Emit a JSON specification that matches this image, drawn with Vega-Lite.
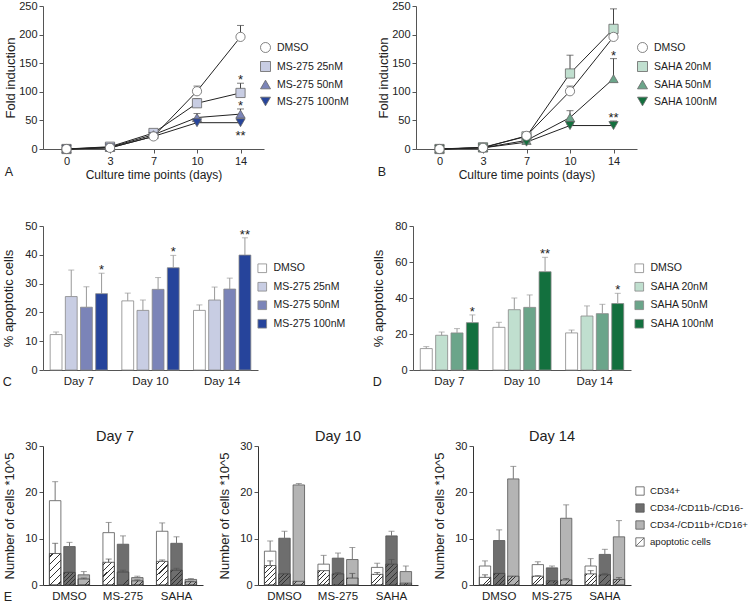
{
 "$schema": "https://vega.github.io/schema/vega-lite/v6.json",
 "padding": {"left": 2, "top": 0, "right": 0, "bottom": 0},
 "config": {
  "font": "Liberation Sans",
  "view": {"stroke": null},
  "axis": {"labelFont": "Liberation Sans", "labelFontSize": 11, "labelColor": "#222", "titleFont": "Liberation Sans", "titleFontSize": 12, "titleFontWeight": "normal", "titleColor": "#222", "domainColor": "#555", "tickColor": "#555", "grid": false, "labelPadding": 2, "tickSize": 4},
  "axisY": {"titleFontSize": 13},
  "legend": {"labelFont": "Liberation Sans", "labelFontSize": 10.5, "labelColor": "#222", "labelLimit": 250},
  "title": {"font": "Liberation Sans", "fontWeight": "normal", "color": "#222"},
  "text": {"font": "Liberation Sans"}
 },
 "datasets": {
  "A": [
   {"day":0,"treatment":"MS-275 25nM","value":0,"err":0,"sig":""},
   {"day":3,"treatment":"MS-275 25nM","value":4,"err":5,"sig":""},
   {"day":7,"treatment":"MS-275 25nM","value":28,"err":31,"sig":""},
   {"day":10,"treatment":"MS-275 25nM","value":80,"err":88,"sig":""},
   {"day":14,"treatment":"MS-275 25nM","value":98,"err":115,"sig":"*"},
   {"day":0,"treatment":"MS-275 50nM","value":0,"err":0,"sig":""},
   {"day":3,"treatment":"MS-275 50nM","value":3,"err":3,"sig":""},
   {"day":7,"treatment":"MS-275 50nM","value":25,"err":27,"sig":""},
   {"day":10,"treatment":"MS-275 50nM","value":55,"err":62,"sig":""},
   {"day":14,"treatment":"MS-275 50nM","value":61,"err":70,"sig":"*"},
   {"day":0,"treatment":"MS-275 100nM","value":0,"err":0,"sig":""},
   {"day":3,"treatment":"MS-275 100nM","value":2,"err":2,"sig":""},
   {"day":7,"treatment":"MS-275 100nM","value":22,"err":23,"sig":""},
   {"day":10,"treatment":"MS-275 100nM","value":46,"err":48,"sig":""},
   {"day":14,"treatment":"MS-275 100nM","value":46,"err":50,"sig":"**"},
   {"day":0,"treatment":"DMSO","value":0,"err":0,"sig":""},
   {"day":3,"treatment":"DMSO","value":2,"err":3,"sig":""},
   {"day":7,"treatment":"DMSO","value":22,"err":25,"sig":""},
   {"day":10,"treatment":"DMSO","value":101,"err":110,"sig":""},
   {"day":14,"treatment":"DMSO","value":196,"err":216,"sig":""}
  ],
  "B": [
   {"day":0,"treatment":"SAHA 20nM","value":0,"err":0,"sig":""},
   {"day":3,"treatment":"SAHA 20nM","value":3,"err":4,"sig":""},
   {"day":7,"treatment":"SAHA 20nM","value":22,"err":24,"sig":""},
   {"day":10,"treatment":"SAHA 20nM","value":132,"err":164,"sig":""},
   {"day":14,"treatment":"SAHA 20nM","value":210,"err":245,"sig":""},
   {"day":0,"treatment":"SAHA 50nM","value":0,"err":0,"sig":""},
   {"day":3,"treatment":"SAHA 50nM","value":2,"err":2,"sig":""},
   {"day":7,"treatment":"SAHA 50nM","value":15,"err":17,"sig":""},
   {"day":10,"treatment":"SAHA 50nM","value":55,"err":67,"sig":""},
   {"day":14,"treatment":"SAHA 50nM","value":123,"err":158,"sig":"*"},
   {"day":0,"treatment":"SAHA 100nM","value":0,"err":0,"sig":""},
   {"day":3,"treatment":"SAHA 100nM","value":2,"err":2,"sig":""},
   {"day":7,"treatment":"SAHA 100nM","value":12,"err":13,"sig":""},
   {"day":10,"treatment":"SAHA 100nM","value":41,"err":43,"sig":""},
   {"day":14,"treatment":"SAHA 100nM","value":41,"err":49,"sig":"**"},
   {"day":0,"treatment":"DMSO","value":0,"err":0,"sig":""},
   {"day":3,"treatment":"DMSO","value":2,"err":3,"sig":""},
   {"day":7,"treatment":"DMSO","value":23,"err":25,"sig":""},
   {"day":10,"treatment":"DMSO","value":101,"err":110,"sig":""},
   {"day":14,"treatment":"DMSO","value":196,"err":216,"sig":""}
  ],
  "C": [
   {"day":"Day 7","treatment":"DMSO","value":12.3,"err":13.2,"sig":""},
   {"day":"Day 7","treatment":"MS-275 25nM","value":25.5,"err":34.7,"sig":""},
   {"day":"Day 7","treatment":"MS-275 50nM","value":21.8,"err":28.9,"sig":""},
   {"day":"Day 7","treatment":"MS-275 100nM","value":26.5,"err":33.6,"sig":"*"},
   {"day":"Day 10","treatment":"DMSO","value":24.0,"err":26.7,"sig":""},
   {"day":"Day 10","treatment":"MS-275 25nM","value":20.7,"err":24.3,"sig":""},
   {"day":"Day 10","treatment":"MS-275 50nM","value":28.0,"err":32.1,"sig":""},
   {"day":"Day 10","treatment":"MS-275 100nM","value":35.5,"err":39.8,"sig":"*"},
   {"day":"Day 14","treatment":"DMSO","value":20.7,"err":22.6,"sig":""},
   {"day":"Day 14","treatment":"MS-275 25nM","value":24.3,"err":28.8,"sig":""},
   {"day":"Day 14","treatment":"MS-275 50nM","value":28.1,"err":31.9,"sig":""},
   {"day":"Day 14","treatment":"MS-275 100nM","value":39.9,"err":45.9,"sig":"**"}
  ],
  "D": [
   {"day":"Day 7","treatment":"DMSO","value":11.9,"err":13.0,"sig":""},
   {"day":"Day 7","treatment":"SAHA 20nM","value":19.3,"err":21.1,"sig":""},
   {"day":"Day 7","treatment":"SAHA 50nM","value":20.6,"err":23.0,"sig":""},
   {"day":"Day 7","treatment":"SAHA 100nM","value":26.3,"err":30.6,"sig":"*"},
   {"day":"Day 10","treatment":"DMSO","value":23.7,"err":26.5,"sig":""},
   {"day":"Day 10","treatment":"SAHA 20nM","value":33.5,"err":40.0,"sig":""},
   {"day":"Day 10","treatment":"SAHA 50nM","value":34.8,"err":41.7,"sig":""},
   {"day":"Day 10","treatment":"SAHA 100nM","value":54.6,"err":62.6,"sig":"**"},
   {"day":"Day 14","treatment":"DMSO","value":20.6,"err":22.2,"sig":""},
   {"day":"Day 14","treatment":"SAHA 20nM","value":30.0,"err":35.6,"sig":""},
   {"day":"Day 14","treatment":"SAHA 50nM","value":31.3,"err":36.5,"sig":""},
   {"day":"Day 14","treatment":"SAHA 100nM","value":36.9,"err":42.6,"sig":"*"}
  ],
  "E7": [
   {"group":"DMSO","pop":"CD34+","value":18.2,"err":22.3,"apo":6.8,"apoErr":9.0},
   {"group":"DMSO","pop":"CD34-/CD11b-/CD16-","value":8.3,"err":9.2,"apo":2.7,"apoErr":2.8},
   {"group":"DMSO","pop":"CD34-/CD11b+/CD16+","value":2.2,"err":2.9,"apo":1.3,"apoErr":1.5},
   {"group":"MS-275","pop":"CD34+","value":11.3,"err":13.5,"apo":4.9,"apoErr":5.6},
   {"group":"MS-275","pop":"CD34-/CD11b-/CD16-","value":8.8,"err":10.6,"apo":2.8,"apoErr":3.2},
   {"group":"MS-275","pop":"CD34-/CD11b+/CD16+","value":1.6,"err":1.9,"apo":0.9,"apoErr":1.1},
   {"group":"SAHA","pop":"CD34+","value":11.6,"err":13.4,"apo":5.1,"apoErr":5.4},
   {"group":"SAHA","pop":"CD34-/CD11b-/CD16-","value":9.0,"err":10.4,"apo":3.2,"apoErr":3.6},
   {"group":"SAHA","pop":"CD34-/CD11b+/CD16+","value":1.2,"err":1.4,"apo":0.7,"apoErr":0.8}
  ],
  "E10": [
   {"group":"DMSO","pop":"CD34+","value":7.3,"err":9.5,"apo":4.2,"apoErr":5.2},
   {"group":"DMSO","pop":"CD34-/CD11b-/CD16-","value":10.1,"err":11.6,"apo":2.4,"apoErr":2.5},
   {"group":"DMSO","pop":"CD34-/CD11b+/CD16+","value":21.6,"err":21.9,"apo":0.8,"apoErr":0.8},
   {"group":"MS-275","pop":"CD34+","value":4.5,"err":6.4,"apo":3.1,"apoErr":3.1},
   {"group":"MS-275","pop":"CD34-/CD11b-/CD16-","value":5.8,"err":6.9,"apo":2.4,"apoErr":2.7},
   {"group":"MS-275","pop":"CD34-/CD11b+/CD16+","value":5.5,"err":8.1,"apo":1.5,"apoErr":2.5},
   {"group":"SAHA","pop":"CD34+","value":3.8,"err":4.7,"apo":2.3,"apoErr":2.7},
   {"group":"SAHA","pop":"CD34-/CD11b-/CD16-","value":10.6,"err":11.6,"apo":4.5,"apoErr":5.5},
   {"group":"SAHA","pop":"CD34-/CD11b+/CD16+","value":2.9,"err":4.1,"apo":0.4,"apoErr":0.4}
  ],
  "E14": [
   {"group":"DMSO","pop":"CD34+","value":4.1,"err":5.2,"apo":1.65,"apoErr":2.2},
   {"group":"DMSO","pop":"CD34-/CD11b-/CD16-","value":9.6,"err":11.9,"apo":2.5,"apoErr":2.5},
   {"group":"DMSO","pop":"CD34-/CD11b+/CD16+","value":22.9,"err":25.6,"apo":1.9,"apoErr":1.9},
   {"group":"MS-275","pop":"CD34+","value":4.4,"err":5.0,"apo":1.9,"apoErr":2.0},
   {"group":"MS-275","pop":"CD34-/CD11b-/CD16-","value":3.7,"err":4.1,"apo":0.9,"apoErr":0.9},
   {"group":"MS-275","pop":"CD34-/CD11b+/CD16+","value":14.4,"err":17.3,"apo":1.1,"apoErr":1.4},
   {"group":"SAHA","pop":"CD34+","value":4.1,"err":5.7,"apo":2.4,"apoErr":3.1},
   {"group":"SAHA","pop":"CD34-/CD11b-/CD16-","value":6.6,"err":7.7,"apo":2.2,"apoErr":2.5},
   {"group":"SAHA","pop":"CD34-/CD11b+/CD16+","value":10.4,"err":13.9,"apo":1.2,"apoErr":1.6}
  ]
 },
 "resolve": {"scale": {"x": "independent", "y": "independent", "color": "independent", "shape": "independent", "xOffset": "independent"}, "legend": {"color": "independent", "shape": "independent"}},
 "spacing": 40,
 "vconcat": [
  {
   "hconcat": [
    {
     "width": 221, "height": 143,
     "title": {"text": "A", "orient": "bottom", "anchor": "start", "fontSize": 12.5, "offset": -14},
     "data": {"name": "A"},
     "encoding": {
      "x": {"field": "day", "type": "ordinal", "scale": {"type": "point", "padding": 0.54}, "axis": {"title": "Culture time points (days)", "labelAngle": 0, "titlePadding": 3}},
      "y": {"field": "value", "type": "quantitative", "scale": {"domain": [0, 250], "nice": false}, "axis": {"values": [0, 50, 100, 150, 200, 250], "titlePadding": 1}, "title": "Fold induction"}
     },
     "layer": [
      {"transform": [{"filter": "datum.err > datum.value"}], "mark": {"type": "rule", "color": "#444", "strokeWidth": 1}, "encoding": {"y2": {"field": "err"}}},
      {"transform": [{"filter": "datum.err > datum.value"}], "mark": {"type": "tick", "color": "#444", "size": 7, "thickness": 1}, "encoding": {"y": {"field": "err", "type": "quantitative", "title": "Fold induction"}}},
      {"mark": {"type": "line", "color": "#222", "strokeWidth": 1}, "encoding": {"detail": {"field": "treatment"}}},
      {"mark": {"type": "point", "filled": true, "size": 85, "stroke": "#666", "strokeWidth": 0.8, "opacity": 1},
       "encoding": {
        "shape": {"field": "treatment", "type": "nominal", "scale": {"domain": ["DMSO", "MS-275 25nM", "MS-275 50nM", "MS-275 100nM"], "range": ["circle", "square", "triangle-up", "triangle-down"]}, "legend": {"title": null, "orient": "none", "legendX": 217, "legendY": 36, "symbolSize": 100, "rowPadding": 4, "labelOffset": 6, "symbolStrokeColor": "#666", "symbolStrokeWidth": 0.8}},
        "color": {"field": "treatment", "type": "nominal", "scale": {"domain": ["DMSO", "MS-275 25nM", "MS-275 50nM", "MS-275 100nM"], "range": ["#ffffff", "#c8cde3", "#7b84b8", "#26449b"]}, "legend": {"title": null, "orient": "none", "legendX": 217, "legendY": 36, "symbolSize": 100, "rowPadding": 4, "labelOffset": 6, "symbolStrokeColor": "#666", "symbolStrokeWidth": 0.8}}
       }},
      {"transform": [{"filter": "datum.sig != '' && datum.treatment != 'MS-275 100nM'"}], "mark": {"type": "text", "fontSize": 13, "baseline": "alphabetic", "dy": 1, "color": "#222"}, "encoding": {"y": {"field": "err", "type": "quantitative", "title": "Fold induction"}, "text": {"field": "sig"}}},
      {"transform": [{"filter": "datum.sig != '' && datum.treatment == 'MS-275 100nM'"}], "mark": {"type": "text", "fontSize": 13, "baseline": "alphabetic", "dy": 17, "color": "#222"}, "encoding": {"text": {"field": "sig"}}}
     ]
    },
    {
     "width": 221, "height": 143,
     "title": {"text": "B", "orient": "bottom", "anchor": "start", "fontSize": 12.5, "offset": -14},
     "data": {"name": "B"},
     "encoding": {
      "x": {"field": "day", "type": "ordinal", "scale": {"type": "point", "padding": 0.54}, "axis": {"title": "Culture time points (days)", "labelAngle": 0, "titlePadding": 3}},
      "y": {"field": "value", "type": "quantitative", "scale": {"domain": [0, 250], "nice": false}, "axis": {"values": [0, 50, 100, 150, 200, 250], "titlePadding": 1}, "title": "Fold induction"}
     },
     "layer": [
      {"transform": [{"filter": "datum.err > datum.value"}], "mark": {"type": "rule", "color": "#444", "strokeWidth": 1}, "encoding": {"y2": {"field": "err"}}},
      {"transform": [{"filter": "datum.err > datum.value"}], "mark": {"type": "tick", "color": "#444", "size": 7, "thickness": 1}, "encoding": {"y": {"field": "err", "type": "quantitative", "title": "Fold induction"}}},
      {"mark": {"type": "line", "color": "#222", "strokeWidth": 1}, "encoding": {"detail": {"field": "treatment"}}},
      {"mark": {"type": "point", "filled": true, "size": 85, "stroke": "#666", "strokeWidth": 0.8, "opacity": 1},
       "encoding": {
        "shape": {"field": "treatment", "type": "nominal", "scale": {"domain": ["DMSO", "SAHA 20nM", "SAHA 50nM", "SAHA 100nM"], "range": ["circle", "square", "triangle-up", "triangle-down"]}, "legend": {"title": null, "orient": "none", "legendX": 221, "legendY": 36, "symbolSize": 100, "rowPadding": 4, "labelOffset": 6, "symbolStrokeColor": "#666", "symbolStrokeWidth": 0.8}},
        "color": {"field": "treatment", "type": "nominal", "scale": {"domain": ["DMSO", "SAHA 20nM", "SAHA 50nM", "SAHA 100nM"], "range": ["#ffffff", "#c0dfcf", "#6ba58a", "#13703e"]}, "legend": {"title": null, "orient": "none", "legendX": 221, "legendY": 36, "symbolSize": 100, "rowPadding": 4, "labelOffset": 6, "symbolStrokeColor": "#666", "symbolStrokeWidth": 0.8}}
       }},
      {"transform": [{"filter": "datum.sig != ''"}], "mark": {"type": "text", "fontSize": 13, "baseline": "alphabetic", "dy": 1, "color": "#222"}, "encoding": {"y": {"field": "err", "type": "quantitative", "title": "Fold induction"}, "text": {"field": "sig"}}}
     ]
    }
   ],
   "spacing": 152,
   "bounds": "flush",
   "resolve": {"scale": {"x": "independent", "y": "independent", "color": "independent", "shape": "independent"}, "legend": {"color": "independent", "shape": "independent"}}
  },
  {
   "hconcat": [
    {
     "width": 215, "height": 144,
     "title": {"text": "C", "orient": "bottom", "anchor": "start", "fontSize": 12.5, "offset": -11},
     "data": {"name": "C"},
     "encoding": {
      "x": {"field": "day", "type": "nominal", "sort": ["Day 7", "Day 10", "Day 14"], "scale": {"paddingInner": 0.2, "paddingOuter": 0.1}, "axis": {"title": null, "ticks": false, "labelAngle": 0, "labelPadding": 5, "labelFontSize": 11.5}},
      "xOffset": {"field": "treatment", "type": "nominal", "scale": {"domain": ["DMSO", "MS-275 25nM", "MS-275 50nM", "MS-275 100nM"], "paddingInner": 0.22}},
      "y": {"field": "value", "type": "quantitative", "scale": {"domain": [0, 50], "nice": false}, "axis": {"values": [0, 10, 20, 30, 40, 50], "titlePadding": 9}, "title": "% apoptotic cells"}
     },
     "layer": [
      {"mark": {"type": "bar", "stroke": "#888", "strokeWidth": 0.8}, "encoding": {"color": {"field": "treatment", "type": "nominal", "scale": {"domain": ["DMSO", "MS-275 25nM", "MS-275 50nM", "MS-275 100nM"], "range": ["#ffffff", "#c8cde3", "#7b84b8", "#26449b"]}, "legend": {"title": null, "orient": "none", "legendX": 214, "legendY": 37, "symbolType": "square", "symbolSize": 75, "rowPadding": 5.5, "labelOffset": 6, "symbolStrokeColor": "#888", "symbolStrokeWidth": 0.8}}}},
      {"mark": {"type": "rule", "color": "#999", "strokeWidth": 1}, "encoding": {"y2": {"field": "err"}}},
      {"mark": {"type": "tick", "color": "#999", "size": 6, "thickness": 1}, "encoding": {"y": {"field": "err", "type": "quantitative", "title": "% apoptotic cells"}}},
      {"transform": [{"filter": "datum.sig != ''"}], "mark": {"type": "text", "fontSize": 13, "baseline": "alphabetic", "dy": 1, "color": "#222"}, "encoding": {"y": {"field": "err", "type": "quantitative", "title": "% apoptotic cells"}, "text": {"field": "sig"}}}
     ]
    },
    {
     "width": 218, "height": 144,
     "title": {"text": "D", "orient": "bottom", "anchor": "start", "fontSize": 12.5, "offset": -11},
     "data": {"name": "D"},
     "encoding": {
      "x": {"field": "day", "type": "nominal", "sort": ["Day 7", "Day 10", "Day 14"], "scale": {"paddingInner": 0.2, "paddingOuter": 0.1}, "axis": {"title": null, "ticks": false, "labelAngle": 0, "labelPadding": 5, "labelFontSize": 11.5}},
      "xOffset": {"field": "treatment", "type": "nominal", "scale": {"domain": ["DMSO", "SAHA 20nM", "SAHA 50nM", "SAHA 100nM"], "paddingInner": 0.22}},
      "y": {"field": "value", "type": "quantitative", "scale": {"domain": [0, 80], "nice": false}, "axis": {"values": [0, 20, 40, 60, 80], "titlePadding": 9}, "title": "% apoptotic cells"}
     },
     "layer": [
      {"mark": {"type": "bar", "stroke": "#888", "strokeWidth": 0.8}, "encoding": {"color": {"field": "treatment", "type": "nominal", "scale": {"domain": ["DMSO", "SAHA 20nM", "SAHA 50nM", "SAHA 100nM"], "range": ["#ffffff", "#c0dfcf", "#6ba58a", "#13703e"]}, "legend": {"title": null, "orient": "none", "legendX": 221, "legendY": 37, "symbolType": "square", "symbolSize": 75, "rowPadding": 5.5, "labelOffset": 6, "symbolStrokeColor": "#888", "symbolStrokeWidth": 0.8}}}},
      {"mark": {"type": "rule", "color": "#999", "strokeWidth": 1}, "encoding": {"y2": {"field": "err"}}},
      {"mark": {"type": "tick", "color": "#999", "size": 6, "thickness": 1}, "encoding": {"y": {"field": "err", "type": "quantitative", "title": "% apoptotic cells"}}},
      {"transform": [{"filter": "datum.sig != ''"}], "mark": {"type": "text", "fontSize": 13, "baseline": "alphabetic", "dy": 1, "color": "#222"}, "encoding": {"y": {"field": "err", "type": "quantitative", "title": "% apoptotic cells"}, "text": {"field": "sig"}}}
     ]
    }
   ],
   "spacing": 155,
   "bounds": "flush",
   "resolve": {"scale": {"x": "independent", "y": "independent", "color": "independent", "xOffset": "independent"}, "legend": {"color": "independent"}}
  },
  {
   "title": {"text": "E", "orient": "bottom", "anchor": "start", "fontSize": 12.5, "offset": -11},
   "hconcat": [
    {
     "width": 160, "height": 139,
     "title": {"text": "Day 7", "fontSize": 14.5, "offset": -4, "frame": "group", "dx": -8},
     "data": {"name": "E7"},
     "encoding": {
      "x": {"field": "group", "type": "nominal", "sort": ["DMSO", "MS-275", "SAHA"], "scale": {"paddingInner": 0.25, "paddingOuter": 0.12}, "axis": {"title": null, "ticks": false, "labelAngle": 0, "labelPadding": 5, "labelFontSize": 11.5, "domainColor": "#333", "domainWidth": 1.2}},
      "xOffset": {"field": "pop", "type": "nominal", "scale": {"domain": ["CD34+", "CD34-/CD11b-/CD16-", "CD34-/CD11b+/CD16+"], "paddingInner": 0.2}},
      "y": {"field": "value", "type": "quantitative", "scale": {"domain": [0, 30], "nice": false}, "axis": {"values": [0, 10, 20, 30], "titlePadding": 8, "domainColor": "#333"}, "title": "Number of cells *10^5"}
     },
     "layer": [
      {"mark": {"type": "bar", "stroke": "#555", "strokeWidth": 0.8}, "encoding": {"color": {"field": "pop", "type": "nominal", "scale": {"domain": ["CD34+", "CD34-/CD11b-/CD16-", "CD34-/CD11b+/CD16+", "apoptotic cells"], "range": ["#ffffff", "#6e6e6e", "#b4b4b4", "#ffffff"]}, "legend": null}}},
      {"transform": [{"filter": "datum.err > datum.value"}], "mark": {"type": "rule", "color": "#777"}, "encoding": {"y2": {"field": "err"}}},
      {"transform": [{"filter": "datum.err > datum.value"}], "mark": {"type": "tick", "color": "#777", "size": 6, "thickness": 1}, "encoding": {"y": {"field": "err", "type": "quantitative", "title": "Number of cells *10^5"}}},
      {"mark": {"type": "bar", "stroke": "#444", "strokeWidth": 0.8, "fill": {"expr": "{gradient:'linear',x1:0,y1:0,x2:11.4*(11.4+4.633*datum.apo)/(129.96+pow(4.633*datum.apo,2)),y2:4.633*datum.apo*(11.4+4.633*datum.apo)/(129.96+pow(4.633*datum.apo,2)),stops:[{offset:0,color:'rgba(0,0,0,0)'},{offset:0.07,color:'rgba(0,0,0,0)'},{offset:0.07,color:'#333'},{offset:0.1,color:'#333'},{offset:0.1,color:'rgba(0,0,0,0)'},{offset:0.237,color:'rgba(0,0,0,0)'},{offset:0.237,color:'#333'},{offset:0.267,color:'#333'},{offset:0.267,color:'rgba(0,0,0,0)'},{offset:0.403,color:'rgba(0,0,0,0)'},{offset:0.403,color:'#333'},{offset:0.433,color:'#333'},{offset:0.433,color:'rgba(0,0,0,0)'},{offset:0.57,color:'rgba(0,0,0,0)'},{offset:0.57,color:'#333'},{offset:0.6,color:'#333'},{offset:0.6,color:'rgba(0,0,0,0)'},{offset:0.737,color:'rgba(0,0,0,0)'},{offset:0.737,color:'#333'},{offset:0.767,color:'#333'},{offset:0.767,color:'rgba(0,0,0,0)'},{offset:0.903,color:'rgba(0,0,0,0)'},{offset:0.903,color:'#333'},{offset:0.933,color:'#333'},{offset:0.933,color:'rgba(0,0,0,0)'},{offset:1,color:'rgba(0,0,0,0)'}]}"}}, "encoding": {"y": {"field": "apo", "type": "quantitative", "title": "Number of cells *10^5"}}},
      {"transform": [{"filter": "datum.apoErr > datum.apo"}], "mark": {"type": "rule", "color": "#555"}, "encoding": {"y": {"field": "apo", "type": "quantitative", "title": "Number of cells *10^5"}, "y2": {"field": "apoErr"}}},
      {"transform": [{"filter": "datum.apoErr > datum.apo"}], "mark": {"type": "tick", "color": "#555", "size": 6, "thickness": 1}, "encoding": {"y": {"field": "apoErr", "type": "quantitative", "title": "Number of cells *10^5"}}}
     ]
    },
    {
     "width": 160, "height": 139,
     "title": {"text": "Day 10", "fontSize": 14.5, "offset": -4, "frame": "group"},
     "data": {"name": "E10"},
     "encoding": {
      "x": {"field": "group", "type": "nominal", "sort": ["DMSO", "MS-275", "SAHA"], "scale": {"paddingInner": 0.25, "paddingOuter": 0.12}, "axis": {"title": null, "ticks": false, "labelAngle": 0, "labelPadding": 5, "labelFontSize": 11.5, "domainColor": "#333", "domainWidth": 1.2}},
      "xOffset": {"field": "pop", "type": "nominal", "scale": {"domain": ["CD34+", "CD34-/CD11b-/CD16-", "CD34-/CD11b+/CD16+"], "paddingInner": 0.2}},
      "y": {"field": "value", "type": "quantitative", "scale": {"domain": [0, 30], "nice": false}, "axis": {"values": [0, 10, 20, 30], "titlePadding": 8, "domainColor": "#333"}, "title": "Number of cells *10^5"}
     },
     "layer": [
      {"mark": {"type": "bar", "stroke": "#555", "strokeWidth": 0.8}, "encoding": {"color": {"field": "pop", "type": "nominal", "scale": {"domain": ["CD34+", "CD34-/CD11b-/CD16-", "CD34-/CD11b+/CD16+", "apoptotic cells"], "range": ["#ffffff", "#6e6e6e", "#b4b4b4", "#ffffff"]}, "legend": null}}},
      {"transform": [{"filter": "datum.err > datum.value"}], "mark": {"type": "rule", "color": "#777"}, "encoding": {"y2": {"field": "err"}}},
      {"transform": [{"filter": "datum.err > datum.value"}], "mark": {"type": "tick", "color": "#777", "size": 6, "thickness": 1}, "encoding": {"y": {"field": "err", "type": "quantitative", "title": "Number of cells *10^5"}}},
      {"mark": {"type": "bar", "stroke": "#444", "strokeWidth": 0.8, "fill": {"expr": "{gradient:'linear',x1:0,y1:0,x2:11.4*(11.4+4.633*datum.apo)/(129.96+pow(4.633*datum.apo,2)),y2:4.633*datum.apo*(11.4+4.633*datum.apo)/(129.96+pow(4.633*datum.apo,2)),stops:[{offset:0,color:'rgba(0,0,0,0)'},{offset:0.07,color:'rgba(0,0,0,0)'},{offset:0.07,color:'#333'},{offset:0.1,color:'#333'},{offset:0.1,color:'rgba(0,0,0,0)'},{offset:0.237,color:'rgba(0,0,0,0)'},{offset:0.237,color:'#333'},{offset:0.267,color:'#333'},{offset:0.267,color:'rgba(0,0,0,0)'},{offset:0.403,color:'rgba(0,0,0,0)'},{offset:0.403,color:'#333'},{offset:0.433,color:'#333'},{offset:0.433,color:'rgba(0,0,0,0)'},{offset:0.57,color:'rgba(0,0,0,0)'},{offset:0.57,color:'#333'},{offset:0.6,color:'#333'},{offset:0.6,color:'rgba(0,0,0,0)'},{offset:0.737,color:'rgba(0,0,0,0)'},{offset:0.737,color:'#333'},{offset:0.767,color:'#333'},{offset:0.767,color:'rgba(0,0,0,0)'},{offset:0.903,color:'rgba(0,0,0,0)'},{offset:0.903,color:'#333'},{offset:0.933,color:'#333'},{offset:0.933,color:'rgba(0,0,0,0)'},{offset:1,color:'rgba(0,0,0,0)'}]}"}}, "encoding": {"y": {"field": "apo", "type": "quantitative", "title": "Number of cells *10^5"}}},
      {"transform": [{"filter": "datum.apoErr > datum.apo"}], "mark": {"type": "rule", "color": "#555"}, "encoding": {"y": {"field": "apo", "type": "quantitative", "title": "Number of cells *10^5"}, "y2": {"field": "apoErr"}}},
      {"transform": [{"filter": "datum.apoErr > datum.apo"}], "mark": {"type": "tick", "color": "#555", "size": 6, "thickness": 1}, "encoding": {"y": {"field": "apoErr", "type": "quantitative", "title": "Number of cells *10^5"}}}
     ]
    },
    {
     "width": 158, "height": 139,
     "title": {"text": "Day 14", "fontSize": 14.5, "offset": -4, "frame": "group"},
     "data": {"name": "E14"},
     "encoding": {
      "x": {"field": "group", "type": "nominal", "sort": ["DMSO", "MS-275", "SAHA"], "scale": {"paddingInner": 0.25, "paddingOuter": 0.12}, "axis": {"title": null, "ticks": false, "labelAngle": 0, "labelPadding": 5, "labelFontSize": 11.5, "domainColor": "#333", "domainWidth": 1.2}},
      "xOffset": {"field": "pop", "type": "nominal", "scale": {"domain": ["CD34+", "CD34-/CD11b-/CD16-", "CD34-/CD11b+/CD16+"], "paddingInner": 0.2}},
      "y": {"field": "value", "type": "quantitative", "scale": {"domain": [0, 30], "nice": false}, "axis": {"values": [0, 10, 20, 30], "titlePadding": 8, "domainColor": "#333"}, "title": "Number of cells *10^5"}
     },
     "layer": [
      {"mark": {"type": "bar", "stroke": "#555", "strokeWidth": 0.8}, "encoding": {"color": {"field": "pop", "type": "nominal", "scale": {"domain": ["CD34+", "CD34-/CD11b-/CD16-", "CD34-/CD11b+/CD16+", "apoptotic cells"], "range": ["#ffffff", "#6e6e6e", "#b4b4b4", "#ffffff"]}, "legend": {"title": null, "orient": "none", "legendX": 162, "legendY": 40, "symbolType": "square", "symbolSize": 70, "rowPadding": 5, "labelOffset": 5, "labelFontSize": 9.6, "symbolStrokeColor": "#555", "symbolStrokeWidth": 0.8, "encode": {"symbols": {"update": {"shape": {"signal": "datum.value === 'apoptotic cells' ? 'M-1,-1H1V1H-1ZM-1,1L1,-1' : 'square'"}}}}}}}},
      {"transform": [{"filter": "datum.err > datum.value"}], "mark": {"type": "rule", "color": "#777"}, "encoding": {"y2": {"field": "err"}}},
      {"transform": [{"filter": "datum.err > datum.value"}], "mark": {"type": "tick", "color": "#777", "size": 6, "thickness": 1}, "encoding": {"y": {"field": "err", "type": "quantitative", "title": "Number of cells *10^5"}}},
      {"mark": {"type": "bar", "stroke": "#444", "strokeWidth": 0.8, "fill": {"expr": "{gradient:'linear',x1:0,y1:0,x2:11.4*(11.4+4.633*datum.apo)/(129.96+pow(4.633*datum.apo,2)),y2:4.633*datum.apo*(11.4+4.633*datum.apo)/(129.96+pow(4.633*datum.apo,2)),stops:[{offset:0,color:'rgba(0,0,0,0)'},{offset:0.07,color:'rgba(0,0,0,0)'},{offset:0.07,color:'#333'},{offset:0.1,color:'#333'},{offset:0.1,color:'rgba(0,0,0,0)'},{offset:0.237,color:'rgba(0,0,0,0)'},{offset:0.237,color:'#333'},{offset:0.267,color:'#333'},{offset:0.267,color:'rgba(0,0,0,0)'},{offset:0.403,color:'rgba(0,0,0,0)'},{offset:0.403,color:'#333'},{offset:0.433,color:'#333'},{offset:0.433,color:'rgba(0,0,0,0)'},{offset:0.57,color:'rgba(0,0,0,0)'},{offset:0.57,color:'#333'},{offset:0.6,color:'#333'},{offset:0.6,color:'rgba(0,0,0,0)'},{offset:0.737,color:'rgba(0,0,0,0)'},{offset:0.737,color:'#333'},{offset:0.767,color:'#333'},{offset:0.767,color:'rgba(0,0,0,0)'},{offset:0.903,color:'rgba(0,0,0,0)'},{offset:0.903,color:'#333'},{offset:0.933,color:'#333'},{offset:0.933,color:'rgba(0,0,0,0)'},{offset:1,color:'rgba(0,0,0,0)'}]}"}}, "encoding": {"y": {"field": "apo", "type": "quantitative", "title": "Number of cells *10^5"}}},
      {"transform": [{"filter": "datum.apoErr > datum.apo"}], "mark": {"type": "rule", "color": "#555"}, "encoding": {"y": {"field": "apo", "type": "quantitative", "title": "Number of cells *10^5"}, "y2": {"field": "apoErr"}}},
      {"transform": [{"filter": "datum.apoErr > datum.apo"}], "mark": {"type": "tick", "color": "#555", "size": 6, "thickness": 1}, "encoding": {"y": {"field": "apoErr", "type": "quantitative", "title": "Number of cells *10^5"}}}
     ]
    }
   ],
   "spacing": 55,
   "bounds": "flush",
   "resolve": {"scale": {"x": "independent", "y": "independent", "color": "independent", "xOffset": "independent"}, "legend": {"color": "independent"}}
  }
 ]
}
